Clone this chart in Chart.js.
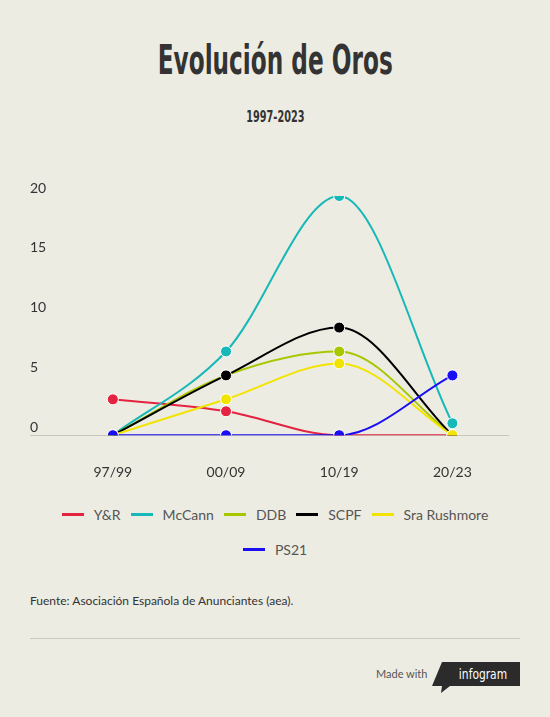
<!DOCTYPE html>
<html>
<head>
<meta charset="utf-8">
<script src="https://cdn.jsdelivr.net/npm/chart.js@4.4.1/dist/chart.umd.min.js"></script>
<style>
  html, body { margin: 0; padding: 0; }
  body { width: 550px; height: 717px; background: #edece2; position: relative; overflow: hidden; font-family: Lato, "Noto Sans", sans-serif; }
  .title { position: absolute; top: 37px; left: 0; width: 550px; text-align: center; }
  .title span { display: inline-block; font-family: "DejaVu Sans Condensed", sans-serif; font-weight: bold; font-size: 40px; color: #333; transform: scaleX(0.645); letter-spacing: 0; }
  .subtitle { position: absolute; top: 106px; left: 0; width: 550px; text-align: center; }
  .subtitle span { display: inline-block; font-family: "DejaVu Sans Condensed", sans-serif; font-weight: bold; font-size: 15px; color: #333; transform: scaleX(0.72); }
  #wrap { position: absolute; top: 170px; left: 0; width: 550px; height: 333px; }
  #legend { position: absolute; top: 503px; left: 55px; width: 440px; display: flex; flex-wrap: wrap; justify-content: center; row-gap: 13px; }
  .item { display: flex; align-items: center; height: 22px; font-size: 14px; color: #555; margin: 0 5px; }
  .item i { display: inline-block; width: 22px; height: 3px; margin-right: 10px; }
  .source { position: absolute; top: 593px; left: 30px; font-size: 12px; color: #333; }
  .rule { position: absolute; top: 638px; left: 30px; width: 490px; height: 1px; background: #c9c9c0; }
  .made { position: absolute; top: 667px; left: 376px; font-size: 11px; color: #555; }
  .badge { position: absolute; top: 662px; left: 432px; }
</style>
</head>
<body>
<div class="title"><span>Evolución de Oros</span></div>
<div class="subtitle"><span>1997-2023</span></div>
<div id="wrap"><canvas id="chart"></canvas></div>
<div id="legend"></div>
<div class="source">Fuente: Asociación Española de Anunciantes (aea).</div>
<div class="rule"></div>
<div class="made">Made with</div>
<svg class="badge" width="90" height="34" viewBox="0 0 90 34">
  <polygon points="10,0 88,0 88,24 18,24 9,31 10,24 0,24" fill="#2b2b2b"/>
  <text x="51" y="17" text-anchor="middle" font-family="DejaVu Sans Condensed, sans-serif" font-size="14" fill="#fff" transform="translate(51 0) scale(0.85 1) translate(-51 0)">infogram</text>
</svg>
<script>
const categories = ['97/99', '00/09', '10/19', '20/23'];
const seriesNames = ['Y&R', 'McCann', 'DDB', 'SCPF', 'Sra Rushmore', 'PS21'];
const yrValues = [3, 2, 0, 0];
const mccannValues = [0, 7, 20, 1];
const ddbValues = [0, 5, 7, 0];
const scpfValues = [0, 5, 9, 0];
const rushmoreValues = [0, 3, 6, 0];
const ps21Values = [0, 0, 0, 5];
const yTicks = [0, 5, 10, 15, 20];

const seriesValues = [yrValues, mccannValues, ddbValues, scpfValues, rushmoreValues, ps21Values];
const seriesColors = ['#e3233f', '#17b8b8', '#a9c701', '#000000', '#f2e400', '#1a0ff2'];

// legend in html so the row wraps like the original
const legendEl = document.getElementById('legend');
seriesNames.forEach(function(name, i) {
    const item = document.createElement('div');
    item.className = 'item';
    item.innerHTML = '<i style="background:' + seriesColors[i] + '"></i>';
    item.appendChild(document.createTextNode(name));
    legendEl.appendChild(item);
});

// zero line from the label column to the right edge
const baseline = {
    id: 'baseline',
    beforeDatasetsDraw(chart) {
        const c = chart.ctx;
        const y = Math.round(chart.scales.y.getPixelForValue(0)) + 0.5;
        c.save();
        c.strokeStyle = '#c6c6bd';
        c.lineWidth = 1;
        c.beginPath();
        c.moveTo(30, y);
        c.lineTo(chart.chartArea.right, y);
        c.stroke();
        c.restore();
    }
};

const datasets = seriesNames.map(function(name, i) {
    return {
        label: name,
        data: seriesValues[i],
        borderColor: seriesColors[i],
        backgroundColor: seriesColors[i],
        pointBackgroundColor: seriesColors[i],
        pointBorderColor: '#ffffff',
        pointBorderWidth: 1,
        pointRadius: 5.5,
        borderWidth: 2,
        cubicInterpolationMode: 'monotone',
        tension: 0.4,
        order: -i // later series drawn on top
    };
});

new Chart(document.getElementById('chart'), {
    type: 'line',
    data: { labels: categories, datasets: datasets },
    options: {
        responsive: true,
        maintainAspectRatio: false,
        animation: false,
        layout: { padding: { top: 26, left: 30, right: 41, bottom: 1 } },
        plugins: {
            legend: { display: false },
            tooltip: { enabled: false }
        },
        scales: {
            x: {
                offset: true,
                grid: { display: false },
                border: { display: false },
                ticks: { color: '#333', padding: 21, font: { family: 'Lato', size: 14 } }
            },
            y: {
                min: 0,
                max: 20,
                afterBuildTicks: function(axis) {
                    axis.ticks = yTicks.map(function(v) { return { value: v }; });
                },
                grid: { color: 'transparent', drawTicks: false },
                border: { display: false },
                ticks: {
                    color: '#333',
                    padding: 5,
                    crossAlign: 'far',
                    labelOffset: -8,
                    font: { family: 'Lato', size: 14 }
                }
            }
        }
    },
    plugins: [baseline]
});
</script>
</body>
</html>
